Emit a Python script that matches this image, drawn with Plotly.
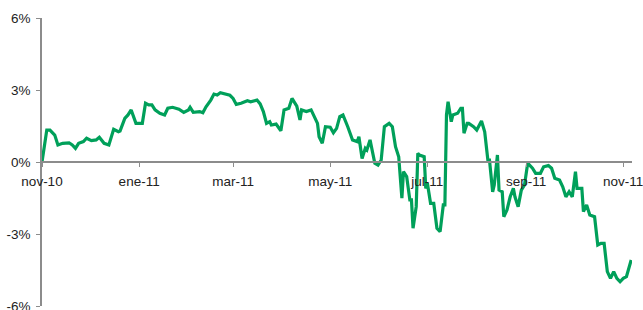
import pandas as pd
import plotly.graph_objects as go

# Days elapsed since 2010-11-01 for each observation
day_offsets = [0, 3, 5, 8, 10, 13, 17, 19, 21, 23, 26, 28, 31, 34, 36, 39, 42, 45, 48, 49,
               52, 54, 56, 57, 59, 63, 65, 67, 69, 71, 74, 77, 79, 82, 86, 89, 92, 93, 95, 99,
               101, 103, 106, 108, 110, 112, 115, 118, 120, 122, 125, 129, 131, 135, 137, 139, 141, 143, 144, 147,
               150, 152, 155, 157, 160, 162, 163, 166, 169, 173, 174, 176, 178, 181, 183, 185, 187, 189, 192, 195,
               198, 199, 201, 203, 204, 206, 209, 211, 213, 215, 218, 220, 222, 224, 226, 227, 229, 231, 232, 233,
               235, 236, 237, 240, 241, 242, 244, 246, 248, 250, 252, 253, 254, 255, 257, 258, 261, 263, 264, 265,
               267, 268, 271, 273, 276, 278, 280, 281, 283, 284, 286, 287, 289, 290, 292, 294, 296, 297, 299, 301,
               303, 305, 308, 310, 313, 315, 318, 320, 322, 325, 327, 329, 331, 333, 335, 336, 339, 340, 342, 344,
               347, 349, 351, 353, 355, 357, 359, 361, 363, 365, 367, 369, 370]

# Cumulative return (%)
values = [0.00, 1.33, 1.33, 1.12, 0.71, 0.78, 0.80, 0.71, 0.57, 0.78, 0.85, 0.99, 0.89, 0.92, 1.03, 0.78, 0.71, 1.36, 1.26, 1.29,
          1.82, 1.96, 2.17, 1.96, 1.61, 1.61, 2.45, 2.38, 2.38, 2.17, 2.03, 1.96, 2.24, 2.28, 2.20, 2.07, 2.17, 2.28, 2.07, 2.10,
          2.05, 2.30, 2.58, 2.83, 2.79, 2.89, 2.83, 2.78, 2.65, 2.40, 2.45, 2.55, 2.51, 2.58, 2.42, 2.10, 1.61, 1.68, 1.54, 1.58,
          1.30, 2.17, 2.24, 2.65, 2.33, 1.75, 2.17, 2.10, 2.17, 1.61, 1.05, 0.78, 1.47, 1.45, 1.22, 1.40, 1.89, 1.96, 1.47, 0.92,
          0.85, 1.05, 0.15, 0.57, 0.50, 0.92, -0.05, -0.13, 0.08, 1.47, 1.61, 1.47, 0.64, 0.22, -1.51, -0.40, -0.61, -1.58, -1.58, -2.76,
          -1.86, 0.36, 0.29, 0.22, -1.10, -0.89, -1.72, -1.72, -2.76, -2.90, -1.79, -1.79, 1.96, 2.51, 1.68, 1.96, 2.03, 2.24, 2.24, 1.20,
          1.61, 1.61, 1.47, 1.33, 1.71, 1.26, 0.08, 0.08, -1.24, -0.96, 0.29, -1.17, -1.24, -2.28, -2.00, -1.45, -1.10, -1.45, -1.86, -1.17,
          -0.96, -0.05, -0.26, -0.47, -0.47, -0.20, -0.15, -0.26, -0.68, -0.75, -1.03, -1.45, -1.24, -1.45, -0.40, -1.10, -1.10, -2.07, -1.79, -2.21,
          -2.28, -3.46, -3.39, -3.39, -4.57, -4.85, -4.57, -4.85, -4.99, -4.85, -4.78, -4.36, -4.08]

x_tick_dates = ["2010-11-01", "2011-01-01", "2011-03-01", "2011-05-01", "2011-07-01", "2011-09-01", "2011-11-01"]
x_tick_labels = ["nov-10", "ene-11", "mar-11", "may-11", "jul-11", "sep-11", "nov-11"]
y_tick_values = [-6, -3, 0, 3, 6]
y_tick_labels = ["-6%", "-3%", "0%", "3%", "6%"]

dates = pd.Timestamp("2010-11-01") + pd.to_timedelta(day_offsets, unit="D")

fig = go.Figure()
fig.add_trace(go.Scatter(
    x=dates, y=values, mode="lines",
    line=dict(color="#00A05A", width=3.2),
    hoverinfo="skip",
))

font = dict(family="Liberation Sans, Arial, sans-serif", size=13.5, color="#222222")

fig.update_layout(
    width=643, height=310,
    margin=dict(l=42, r=11, t=18, b=4),
    paper_bgcolor="white", plot_bgcolor="white",
    showlegend=False,
    font=font,
    xaxis=dict(
        type="date",
        range=["2010-11-01", "2011-11-06 12:00"],
        tickvals=x_tick_dates, ticktext=x_tick_labels,
        anchor="free", position=0.5,
        showline=True, linecolor="#8c8c8c", linewidth=1.5,
        ticks="outside", ticklen=4, tickcolor="#8c8c8c",
        showgrid=False, zeroline=False,
        ticklabelstandoff=3,
        ticklabeloverflow="allow",
        automargin=False,
        tickfont=font,
    ),
    yaxis=dict(
        range=[-6, 6],
        tickvals=y_tick_values, ticktext=y_tick_labels,
        showline=True, linecolor="#8c8c8c", linewidth=1.5,
        ticks="outside", ticklen=4, tickcolor="#8c8c8c",
        showgrid=False, zeroline=False,
        ticklabelstandoff=3,
        ticklabeloverflow="allow",
        automargin=False,
        tickfont=font,
    ),
)

fig.write_html(
    "out.html",
    config={"displayModeBar": False},
    post_script="document.body.style.margin='0';document.body.style.overflow='hidden';",
)
